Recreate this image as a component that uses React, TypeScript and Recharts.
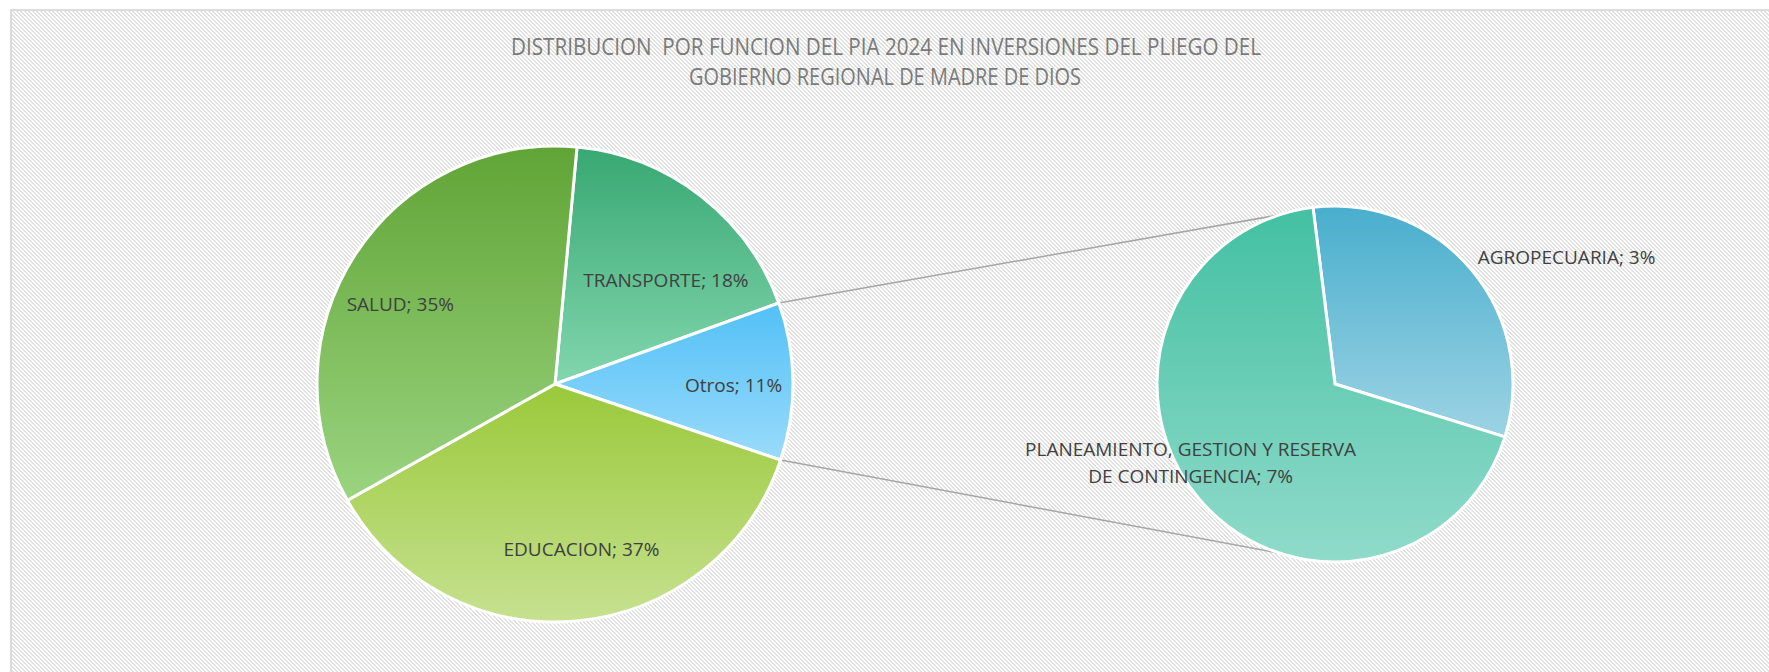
import React from 'react';
import { PieChart, Pie, Cell, Customized } from 'recharts';

// main pie (clockwise, starting with TRANSPORTE)
const mainCategories = ['TRANSPORTE', 'Otros', 'EDUCACION', 'SALUD'];
const mainValues = [18.0, null, 36.7, 34.6]; // Otros = sum of the secondary pie

// secondary pie (breakdown of "Otros")
const subCategories = ['AGROPECUARIA', 'PLANEAMIENTO, GESTION Y RESERVA DE CONTINGENCIA'];
const subValues = [3.4, 7.3];

const titleLines = [
  'DISTRIBUCION  POR FUNCION DEL PIA 2024 EN INVERSIONES DEL PLIEGO DEL',
  'GOBIERNO REGIONAL DE MADRE DE DIOS',
];

const otrosValue = subValues.reduce((a, b) => a + b, 0);
const mainData = mainCategories.map((name, i) => ({
  name,
  value: mainValues[i] == null ? otrosValue : (mainValues[i] as number),
}));
const subData = subCategories.map((name, i) => ({ name, value: subValues[i] }));
const grandTotal = mainData.reduce((a, d) => a + d.value, 0);

const mainGradients = [
  ['#38a872', '#82d6ae'],
  ['#52c0f6', '#9adbfb'],
  ['#9ac93a', '#c6e190'],
  ['#61a436', '#9ad480'],
];
const subGradients = [
  ['#48aecd', '#9dd3e4'],
  ['#43c0a2', '#90dbca'],
];

// best-fit style nudges for the inside labels of the main pie
const mainLabelNudge = [
  [9, 28],
  [12, 3],
  [11, -1],
  [-15, 11],
];

const MAIN_CX = 555;
const MAIN_CY = 384;
const MAIN_R = 238;
const MAIN_START = 84.7;
const SUB_CX = 1335;
const SUB_CY = 384;
const SUB_R = 178;
const SUB_START = 97.1;
const LINK_ANGLE = 108;

const FONT = "'Open Sans', sans-serif";
const LABEL_COLOR = '#404040';
const LABEL_SIZE = 19;
const RAD = Math.PI / 180;

const polar = (cx: number, cy: number, r: number, deg: number) => ({
  x: cx + r * Math.cos(deg * RAD),
  y: cy - r * Math.sin(deg * RAD),
});

const pct = (v: number) => `${Math.round((v / grandTotal) * 100)}%`;

const renderMainLabel = (props: any) => {
  const { cx, cy, midAngle, outerRadius, index } = props;
  const p = polar(cx, cy, outerRadius * 0.7, midAngle);
  const [dx, dy] = mainLabelNudge[index];
  return (
    <text x={p.x + dx} y={p.y + dy} textAnchor="middle" dominantBaseline="central"
      fill={LABEL_COLOR} fontSize={LABEL_SIZE} fontFamily={FONT}>
      {`${mainData[index].name}; ${pct(mainData[index].value)}`}
    </text>
  );
};

const renderSubLabel = (props: any) => {
  const { cx, cy, midAngle, outerRadius, index } = props;
  const d = subData[index];
  if (index === 0) {
    const p = polar(cx, cy, outerRadius * 1.06, midAngle);
    return (
      <text x={p.x - 2} y={p.y - 6} textAnchor="start" dominantBaseline="central"
        fill={LABEL_COLOR} fontSize={LABEL_SIZE} fontFamily={FONT}>
        {`${d.name}; ${pct(d.value)}`}
      </text>
    );
  }
  const p = polar(cx, cy, outerRadius * 0.75, midAngle);
  return (
    <text x={p.x - 42} y={p.y} textAnchor="middle" fill={LABEL_COLOR} fontSize={LABEL_SIZE} fontFamily={FONT}>
      <tspan x={p.x - 42} dy={-14}>PLANEAMIENTO, GESTION Y RESERVA</tspan>
      <tspan x={p.x - 42} dy={27}>{`DE CONTINGENCIA; ${pct(d.value)}`}</tspan>
    </text>
  );
};

const SeriesLines = () => {
  const before = mainData.slice(0, 1).reduce((a, d) => a + d.value, 0);
  const a1 = MAIN_START - (360 * before) / grandTotal;
  const a2 = a1 - (360 * otrosValue) / grandTotal;
  const p1 = polar(MAIN_CX, MAIN_CY, MAIN_R, a1);
  const p2 = polar(MAIN_CX, MAIN_CY, MAIN_R, a2);
  const q1 = polar(SUB_CX, SUB_CY, SUB_R, LINK_ANGLE);
  const q2 = polar(SUB_CX, SUB_CY, SUB_R, -LINK_ANGLE);
  return (
    <g>
      <line x1={p1.x} y1={p1.y} x2={q1.x} y2={q1.y} stroke="#a6a6a6" strokeWidth={1.5} />
      <line x1={p2.x} y1={p2.y} x2={q2.x} y2={q2.y} stroke="#a6a6a6" strokeWidth={1.5} />
    </g>
  );
};

const Title = () => (
  <g fill="#7a7a7a" fontFamily={FONT} fontSize={23}>
    <text x={886} y={55} textAnchor="middle" textLength={750} lengthAdjust="spacingAndGlyphs"
      style={{ whiteSpace: 'pre' }}>
      {titleLines[0]}
    </text>
    <text x={885} y={85} textAnchor="middle" textLength={392} lengthAdjust="spacingAndGlyphs">
      {titleLines[1]}
    </text>
  </g>
);

const stripes =
  "url(\"data:image/svg+xml,%3Csvg xmlns='http://www.w3.org/2000/svg' width='4' height='4' shape-rendering='crispEdges'%3E%3Cpath d='M0 0h2v1h-2zM1 1h2v1h-2zM2 2h2v1h-2zM3 3h1v1h-1zM0 3h1v1h-1z' fill='%23e0e0e0'/%3E%3C/svg%3E\")";

const App: React.FC = () => {
  return (
    <div style={{ position: 'relative', width: 1769, height: 672, overflow: 'hidden', background: '#fff' }}>
      <style>{'body{margin:0}'}</style>
      <div
        style={{
          position: 'absolute', left: 10, top: 9, right: -10, bottom: -10,
          borderTop: '2px solid #dcdcdc', borderLeft: '2px solid #dcdcdc',
          backgroundColor: '#fff', backgroundImage: stripes,
        }}
      />
      <div style={{ position: 'absolute', left: 0, top: 0 }}>
        <PieChart width={1769} height={672} margin={{ top: 0, right: 0, bottom: 0, left: 0 }}>
          <defs>
            {mainGradients.map((g, i) => (
              <linearGradient key={`m${i}`} id={`mg${i}`} x1="0" y1="0" x2="0" y2="1">
                <stop offset="0%" stopColor={g[0]} />
                <stop offset="100%" stopColor={g[1]} />
              </linearGradient>
            ))}
            {subGradients.map((g, i) => (
              <linearGradient key={`s${i}`} id={`sg${i}`} x1="0" y1="0" x2="0" y2="1">
                <stop offset="0%" stopColor={g[0]} />
                <stop offset="100%" stopColor={g[1]} />
              </linearGradient>
            ))}
          </defs>
          <Customized component={SeriesLines} />
          <Customized component={Title} />
          <Pie
            data={mainData}
            dataKey="value"
            nameKey="name"
            cx={MAIN_CX}
            cy={MAIN_CY}
            outerRadius={MAIN_R}
            startAngle={MAIN_START}
            endAngle={MAIN_START - 360}
            stroke="#fff"
            strokeWidth={3}
            label={renderMainLabel}
            labelLine={false}
            isAnimationActive={false}
          >
            {mainData.map((d, i) => (
              <Cell key={d.name} fill={`url(#mg${i})`} />
            ))}
          </Pie>
          <Pie
            data={subData}
            dataKey="value"
            nameKey="name"
            cx={SUB_CX}
            cy={SUB_CY}
            outerRadius={SUB_R}
            startAngle={SUB_START}
            endAngle={SUB_START - 360}
            stroke="#fff"
            strokeWidth={3}
            label={renderSubLabel}
            labelLine={false}
            isAnimationActive={false}
          >
            {subData.map((d, i) => (
              <Cell key={d.name} fill={`url(#sg${i})`} />
            ))}
          </Pie>
        </PieChart>
      </div>
    </div>
  );
};

export default App;
